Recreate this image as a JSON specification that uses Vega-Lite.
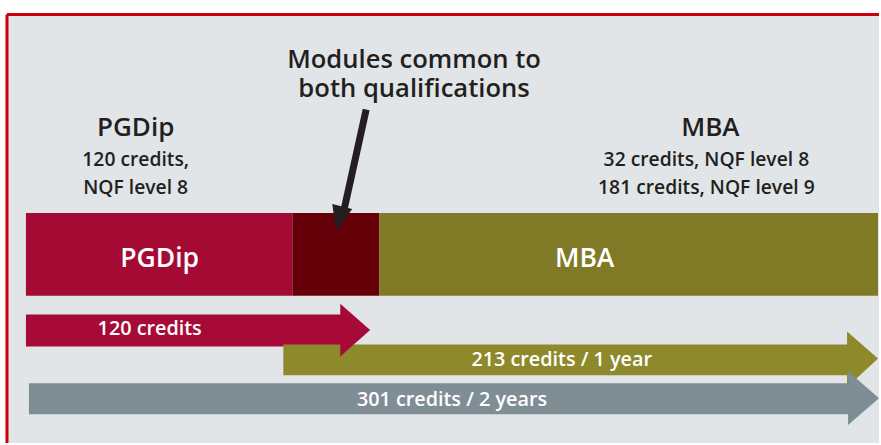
{
  "$schema": "https://vega.github.io/schema/vega-lite/v6.json",
  "width": 881,
  "height": 445,
  "autosize": {"type": "fit", "contains": "padding"},
  "padding": 0,
  "background": "#ffffff",
  "config": {"view": {"stroke": null}},
  "datasets": {
    "panel": [{"x": 8, "x2": 881, "y": 15, "y2": 445}],
    "border": [
      {"side": "top", "x": 7, "x2": 881, "y": 14.5, "y2": 14.5},
      {"side": "left", "x": 7, "x2": 7, "y": 14.5, "y2": 445}
    ],
    "bars": [
      {"part": "PGDip only", "x": 26, "x2": 293, "y": 214, "y2": 297},
      {"part": "Common modules", "x": 293, "x2": 380, "y": 214, "y2": 297},
      {"part": "MBA only", "x": 380, "x2": 880, "y": 214, "y2": 297}
    ],
    "shafts": [
      {"part": "120 credits", "x": 26, "x2": 342, "y": 316, "y2": 348},
      {"part": "213 credits / 1 year", "x": 284, "x2": 850, "y": 346, "y2": 377},
      {"part": "301 credits / 2 years", "x": 29, "x2": 851, "y": 385, "y2": 416}
    ],
    "heads": [
      {"part": "120 credits", "x": 341, "y": 305, "y2": 358},
      {"part": "120 credits", "x": 371, "y": 331.5, "y2": 331.5},
      {"part": "213 credits / 1 year", "x": 849, "y": 333, "y2": 389},
      {"part": "213 credits / 1 year", "x": 880, "y": 360, "y2": 360},
      {"part": "301 credits / 2 years", "x": 850, "y": 373, "y2": 427},
      {"part": "301 credits / 2 years", "x": 881, "y": 400, "y2": 400}
    ],
    "pointerShaft": [{"x": 367, "x2": 345, "y": 110, "y2": 210}],
    "pointerHead": [
      {"x": 333, "y": 205, "y2": 205},
      {"x": 337, "y": 206, "y2": 232},
      {"x": 353, "y": 210, "y2": 210}
    ],
    "headings": [
      {"x": 136, "y": 137, "text": "PGDip"},
      {"x": 712, "y": 137, "text": "MBA"}
    ],
    "details": [
      {"x": 136, "y": 167, "text": "120 credits,"},
      {"x": 136, "y": 195, "text": "NQF level 8"},
      {"x": 708, "y": 167, "text": "32 credits, NQF level 8"},
      {"x": 708, "y": 195, "text": "181 credits, NQF level 9"}
    ],
    "callout": [
      {"x": 415, "y": 68, "text": "Modules common to"},
      {"x": 415, "y": 97, "text": "both qualifications"}
    ],
    "barLabels": [
      {"x": 160, "y": 268, "text": "PGDip"},
      {"x": 586, "y": 268, "text": "MBA"}
    ],
    "arrowLabels": [
      {"x": 150, "y": 337, "text": "120 credits"},
      {"x": 563, "y": 368, "text": "213 credits / 1 year"},
      {"x": 453, "y": 408, "text": "301 credits / 2 years"}
    ]
  },
  "encoding": {
    "x": {"field": "x", "type": "quantitative", "stack": null, "scale": {"domain": [0, 881], "nice": false, "zero": false}, "axis": null},
    "y": {"field": "y", "type": "quantitative", "stack": null, "scale": {"domain": [0, 445], "nice": false, "zero": false, "reverse": true}, "axis": null}
  },
  "layer": [
    {
      "data": {"name": "panel"},
      "mark": {"type": "rect", "fill": "#e1e5e8"},
      "encoding": {"x2": {"field": "x2"}, "y2": {"field": "y2"}}
    },
    {
      "data": {"name": "border"},
      "mark": {"type": "rule", "stroke": "#c9000b", "strokeWidth": 3},
      "encoding": {"x2": {"field": "x2"}, "y2": {"field": "y2"}}
    },
    {
      "data": {"name": "bars"},
      "mark": {"type": "rect"},
      "encoding": {
        "x2": {"field": "x2"},
        "y2": {"field": "y2"},
        "color": {"field": "part", "type": "nominal", "legend": null,
          "scale": {
            "domain": ["PGDip only", "Common modules", "MBA only", "120 credits", "213 credits / 1 year", "301 credits / 2 years"],
            "range": ["#a50a35", "#650009", "#807a27", "#a80a37", "#8e8a2c", "#7f8d95"]
          }}
      }
    },
    {
      "data": {"name": "shafts"},
      "mark": {"type": "rect"},
      "encoding": {
        "x2": {"field": "x2"},
        "y2": {"field": "y2"},
        "color": {"field": "part", "type": "nominal", "legend": null}
      }
    },
    {
      "data": {"name": "heads"},
      "mark": {"type": "area", "interpolate": "linear"},
      "encoding": {
        "y2": {"field": "y2"},
        "color": {"field": "part", "type": "nominal", "legend": null}
      }
    },
    {
      "data": {"name": "pointerShaft"},
      "mark": {"type": "rule", "stroke": "#231f20", "strokeWidth": 7},
      "encoding": {"x2": {"field": "x2"}, "y2": {"field": "y2"}}
    },
    {
      "data": {"name": "pointerHead"},
      "mark": {"type": "area", "interpolate": "linear", "color": "#231f20"},
      "encoding": {"y2": {"field": "y2"}}
    },
    {
      "data": {"name": "headings"},
      "mark": {"type": "text", "font": "Open Sans", "fontWeight": 600, "fontSize": 26, "fill": "#231f20", "align": "center", "baseline": "alphabetic"},
      "encoding": {"text": {"field": "text"}}
    },
    {
      "data": {"name": "details"},
      "mark": {"type": "text", "font": "Open Sans", "fontWeight": 600, "fontSize": 19.3, "fill": "#231f20", "align": "center", "baseline": "alphabetic"},
      "encoding": {"text": {"field": "text"}}
    },
    {
      "data": {"name": "callout"},
      "mark": {"type": "text", "font": "Open Sans", "fontWeight": 600, "fontSize": 25.6, "fill": "#231f20", "align": "center", "baseline": "alphabetic"},
      "encoding": {"text": {"field": "text"}}
    },
    {
      "data": {"name": "barLabels"},
      "mark": {"type": "text", "font": "Open Sans", "fontWeight": 600, "fontSize": 26.5, "fill": "#ffffff", "align": "center", "baseline": "alphabetic"},
      "encoding": {"text": {"field": "text"}}
    },
    {
      "data": {"name": "arrowLabels"},
      "mark": {"type": "text", "font": "Open Sans", "fontWeight": 600, "fontSize": 19.8, "fill": "#ffffff", "align": "center", "baseline": "alphabetic"},
      "encoding": {"text": {"field": "text"}}
    }
  ]
}
